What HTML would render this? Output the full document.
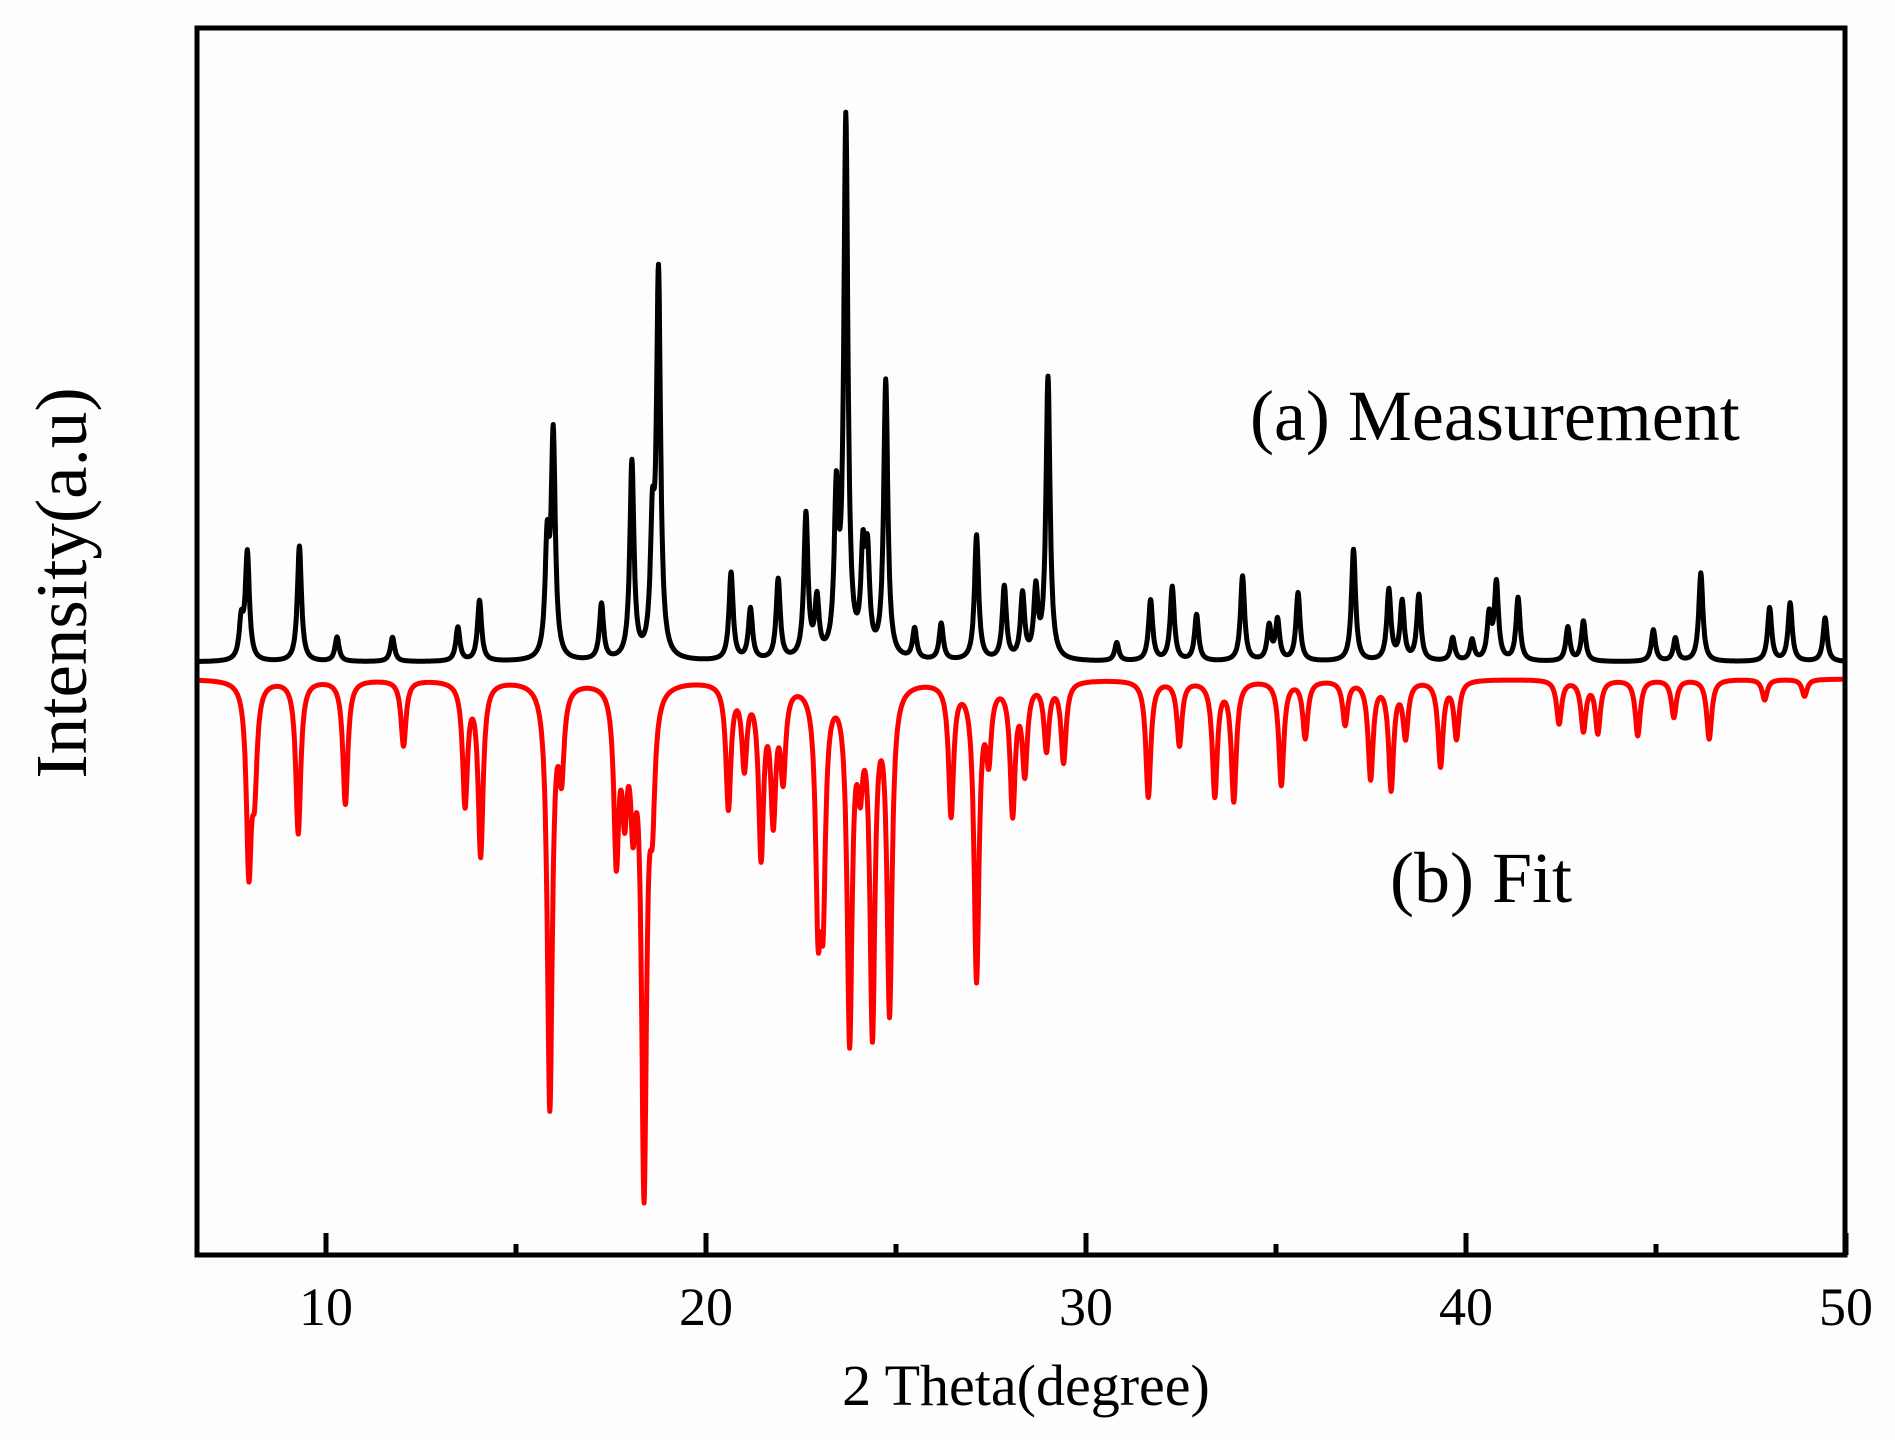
<!DOCTYPE html>
<html><head><meta charset="utf-8">
<style>
html,body{margin:0;padding:0;background:#fdfdfd;}
svg{display:block;}
text{font-family:"Liberation Serif",serif;fill:#000;}
</style></head>
<body>
<svg id="chart" width="1895" height="1440" viewBox="0 0 1895 1440" xmlns="http://www.w3.org/2000/svg">
  <rect x="0" y="0" width="1895" height="1440" fill="#fdfdfd"/>
  <g id="plot"></g>
  <rect x="197" y="28" width="1648" height="1227" fill="none" stroke="#000" stroke-width="5"/>
  <g id="ticks"></g>
  <text x="1250" y="440" font-size="72">(a) Measurement</text>
  <text x="1390" y="902" font-size="72">(b) Fit</text>
  <text x="1026" y="1405" font-size="58" text-anchor="middle">2 Theta(degree)</text>
  <text transform="translate(86,583) rotate(-90)" font-size="73" text-anchor="middle">Intensity(a.u)</text>
</svg>
<script>
const xTickValues = [10, 20, 30, 40, 50];
const xMinorTicks = [15, 25, 35, 45];
const measPos = [7.77,7.93,9.30,10.29,11.75,13.47,14.04,15.82,15.98,17.25,18.05,18.59,18.75,20.66,21.17,21.90,22.63,22.92,23.43,23.68,24.13,24.25,24.73,25.49,26.19,27.12,27.85,28.33,28.68,29.00,30.81,31.70,32.27,32.91,34.12,34.82,35.04,35.58,37.04,37.97,38.32,38.76,39.65,40.16,40.61,40.80,41.37,42.68,43.09,44.93,45.51,46.18,47.99,48.53,49.45];
const measHeight = [30,88,95,20,20,28,50,90,182,46,162,95,312,72,42,66,118,46,126,440,78,76,228,25,30,103,60,53,55,232,15,50,61,38,70,28,33,56,92,58,48,54,19,17,36,63,52,28,33,26,19,73,44,48,36];
const fitPos = [7.97,8.12,9.27,10.51,12.04,13.66,14.07,15.89,16.20,17.64,17.86,18.08,18.37,18.59,20.59,21.01,21.45,21.77,22.03,22.95,23.08,23.78,24.06,24.38,24.83,26.45,27.12,27.44,28.07,28.39,28.96,29.41,31.64,32.46,33.39,33.89,35.14,35.77,36.82,37.49,38.03,38.41,39.33,39.75,42.45,43.09,43.47,44.52,45.47,46.40,47.86,48.91];
const fitHeight = [150,74,126,102,54,100,142,350,66,138,88,92,410,84,102,66,138,106,72,172,162,288,62,280,266,108,243,56,106,72,55,66,96,53,94,98,86,47,36,80,88,45,70,47,36,41,43,46,31,49,17,14];
const fitOffset = -14;

const X0 = 326, PX_PER_UNIT = 38;
function xScale(v){ return X0 + (v - 10) * PX_PER_UNIT; }
function yScale(v){ return 662 - v * 1.2147; }

const NS = "http://www.w3.org/2000/svg";
const plot = document.getElementById('plot');
const ticks = document.getElementById('ticks');

function profile(x, pos, hts, w){
  let s = 0;
  for (let i = 0; i < pos.length; i++){
    const d = (x - pos[i]) / w;
    s += hts[i] / (1 + d * d);
  }
  return s;
}
function buildPath(pos, hts, w, sign, offset){
  let d = "";
  for (let x = 6.6; x <= 50.0001; x += 0.01){
    const v = offset + sign * profile(x, pos, hts, w);
    d += (d ? "L" : "M") + xScale(x).toFixed(1) + "," + yScale(v).toFixed(1);
  }
  return d;
}
const clip = document.createElementNS(NS, 'clipPath');
clip.setAttribute('id', 'pc');
const cr = document.createElementNS(NS, 'rect');
cr.setAttribute('x', 197); cr.setAttribute('y', 28); cr.setAttribute('width', 1648); cr.setAttribute('height', 1227);
clip.appendChild(cr);
plot.appendChild(clip);
plot.setAttribute('clip-path', 'url(#pc)');

const fitLine = document.createElementNS(NS, 'path');
fitLine.setAttribute('d', buildPath(fitPos, fitHeight, 0.08, -1, fitOffset));
fitLine.setAttribute('fill', 'none');
fitLine.setAttribute('stroke', '#ff0000');
fitLine.setAttribute('stroke-width', '5');
fitLine.setAttribute('stroke-linejoin', 'round');


plot.appendChild(fitLine);

const measLine = document.createElementNS(NS, 'path');
measLine.setAttribute('d', buildPath(measPos, measHeight, 0.065, 1, 0));
measLine.setAttribute('fill', 'none');
measLine.setAttribute('stroke', '#000000');
measLine.setAttribute('stroke-width', '5');
measLine.setAttribute('stroke-linejoin', 'round');


plot.appendChild(measLine);

xTickValues.forEach(v => {
  const t = document.createElementNS(NS, 'line');
  t.setAttribute('x1', xScale(v)); t.setAttribute('x2', xScale(v));
  t.setAttribute('y1', 1255); t.setAttribute('y2', 1233);
  t.setAttribute('stroke', '#000'); t.setAttribute('stroke-width', '5');
  
  
  ticks.appendChild(t);
  const lb = document.createElementNS(NS, 'text');
  lb.setAttribute('x', xScale(v)); lb.setAttribute('y', 1325);
  lb.setAttribute('font-size', '54'); lb.setAttribute('text-anchor', 'middle');
  lb.textContent = v;
  
  
  ticks.appendChild(lb);
});
xMinorTicks.forEach(v => {
  const t = document.createElementNS(NS, 'line');
  t.setAttribute('x1', xScale(v)); t.setAttribute('x2', xScale(v));
  t.setAttribute('y1', 1255); t.setAttribute('y2', 1244);
  t.setAttribute('stroke', '#000'); t.setAttribute('stroke-width', '5');
  
  
  ticks.appendChild(t);
});
</script>
</body></html>
